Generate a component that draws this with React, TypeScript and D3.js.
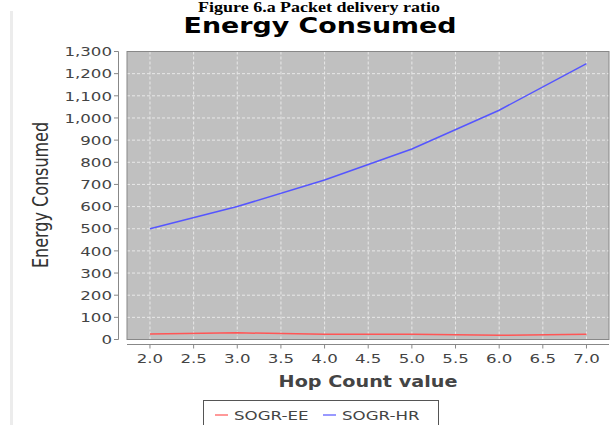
import React from "react";
import * as d3 from "d3";

const hops = [2, 3, 4, 5, 6, 7];
const sogrEE = [25, 30, 24, 24, 19, 24];
const sogrHR = [500, 600, 720, 860, 1035, 1245];
const seriesNames = ["SOGR-EE", "SOGR-HR"];
const seriesColors = ["#ff5555", "#5555ff"];
const yTicks = d3.range(0, 1301, 100);
const xTicks = d3.range(2, 7.01, 0.5);

const W = 616;
const H = 425;
const SX = 1.28;
const FONT = "DejaVu Sans, Verdana, sans-serif";

const plot = { left: 127, right: 609, top: 51.5, bottom: 339.5 };

function T(props: any) {
  const { x, y, children, rotate, ...rest } = props;
  const tr = `translate(${x},${y}) scale(${SX},1)` + (rotate ? ` rotate(${rotate})` : "");
  return (
    <text transform={tr} fontFamily={FONT} {...rest}>
      {children}
    </text>
  );
}

export default function App() {
  const x = d3.scaleLinear().domain([1.737, 7.258]).range([plot.left, plot.right]);
  const y = d3.scaleLinear().domain([0, 1300]).range([plot.bottom, plot.top]);
  const line = d3
    .line<number>()
    .x((_, i) => x(hops[i]))
    .y((d) => y(d));
  const series = [sogrEE, sogrHR];
  const fmt = d3.format(",");

  return (
    <svg width={W} height={H} style={{ position: "absolute", left: 0, top: 0, background: "#fff" }}>
      <rect x={0} y={0} width={W} height={H} fill="#fff" />
      {/* caption above */}
      <text
        x={198}
        y={12}
        fontFamily="Liberation Serif, Times New Roman, serif"
        fontWeight="bold"
        fontSize={15}
        textLength={242}
        lengthAdjust="spacingAndGlyphs"
      >
        Figure 6.a Packet delivery ratio
      </text>
      {/* left gray bar */}
      <rect x={10} y={11} width={3} height={H - 11} fill="#ececec" />

      {/* title */}
      <T x={320} y={33} textAnchor="middle" fontWeight="bold" fontSize={21} fill="#000">
        Energy Consumed
      </T>

      {/* plot background */}
      <rect
        x={plot.left}
        y={plot.top}
        width={plot.right - plot.left}
        height={plot.bottom - plot.top}
        fill="#c0c0c0"
      />
      {/* grid */}
      {yTicks.map((t) => (
        <line
          key={"gy" + t}
          x1={plot.left}
          x2={plot.right}
          y1={y(t)}
          y2={y(t)}
          stroke="#e8e8e8"
          strokeWidth={1}
          strokeDasharray="3,2"
        />
      ))}
      {xTicks.map((t) => (
        <line
          key={"gx" + t}
          x1={x(t)}
          x2={x(t)}
          y1={plot.top}
          y2={plot.bottom}
          stroke="#e8e8e8"
          strokeWidth={1}
          strokeDasharray="3,2"
        />
      ))}
      {/* series */}
      {series.map((s, i) => (
        <path key={"s" + i} d={line(s) || ""} fill="none" stroke={seriesColors[i]} strokeWidth={1.5} />
      ))}
      {/* plot border */}
      <rect
        x={plot.left}
        y={plot.top}
        width={plot.right - plot.left}
        height={plot.bottom - plot.top}
        fill="none"
        stroke="#888"
        strokeWidth={1}
      />

      {/* y axis */}
      <line x1={118.5} x2={118.5} y1={plot.top} y2={plot.bottom} stroke="#888" />
      {yTicks.map((t) => (
        <g key={"yt" + t}>
          <line x1={114} x2={118.5} y1={y(t)} y2={y(t)} stroke="#888" />
          <T x={112} y={y(t)} dy="0.36em" textAnchor="end" fontSize={13} fill="#444">
            {fmt(t)}
          </T>
        </g>
      ))}
      <T x={48} y={195} rotate={-90} textAnchor="middle" fontSize={16} fill="#333">
        Energy Consumed
      </T>

      {/* x axis */}
      <line x1={plot.left} x2={plot.right} y1={344.5} y2={344.5} stroke="#888" />
      {xTicks.map((t) => (
        <g key={"xt" + t}>
          <line x1={x(t)} x2={x(t)} y1={344.5} y2={348.5} stroke="#888" />
          <T x={x(t)} y={363} textAnchor="middle" fontSize={13} fill="#444">
            {t.toFixed(1)}
          </T>
        </g>
      ))}
      <T x={368} y={387} textAnchor="middle" fontWeight="bold" fontSize={15} fill="#444">
        Hop Count value
      </T>

      {/* legend */}
      <rect x={203.5} y={400.5} width={235} height={40} fill="#fff" stroke="#555" strokeWidth={1} />
      {seriesNames.map((n, i) => {
        const lx = i === 0 ? 215 : 323;
        return (
          <g key={"lg" + i}>
            <line x1={lx} x2={lx + 13} y1={415} y2={415} stroke={seriesColors[i]} strokeWidth={1.2} />
            <T x={lx + 19} y={420} fontSize={13} fill="#444">
              {n}
            </T>
          </g>
        );
      })}
    </svg>
  );
}
